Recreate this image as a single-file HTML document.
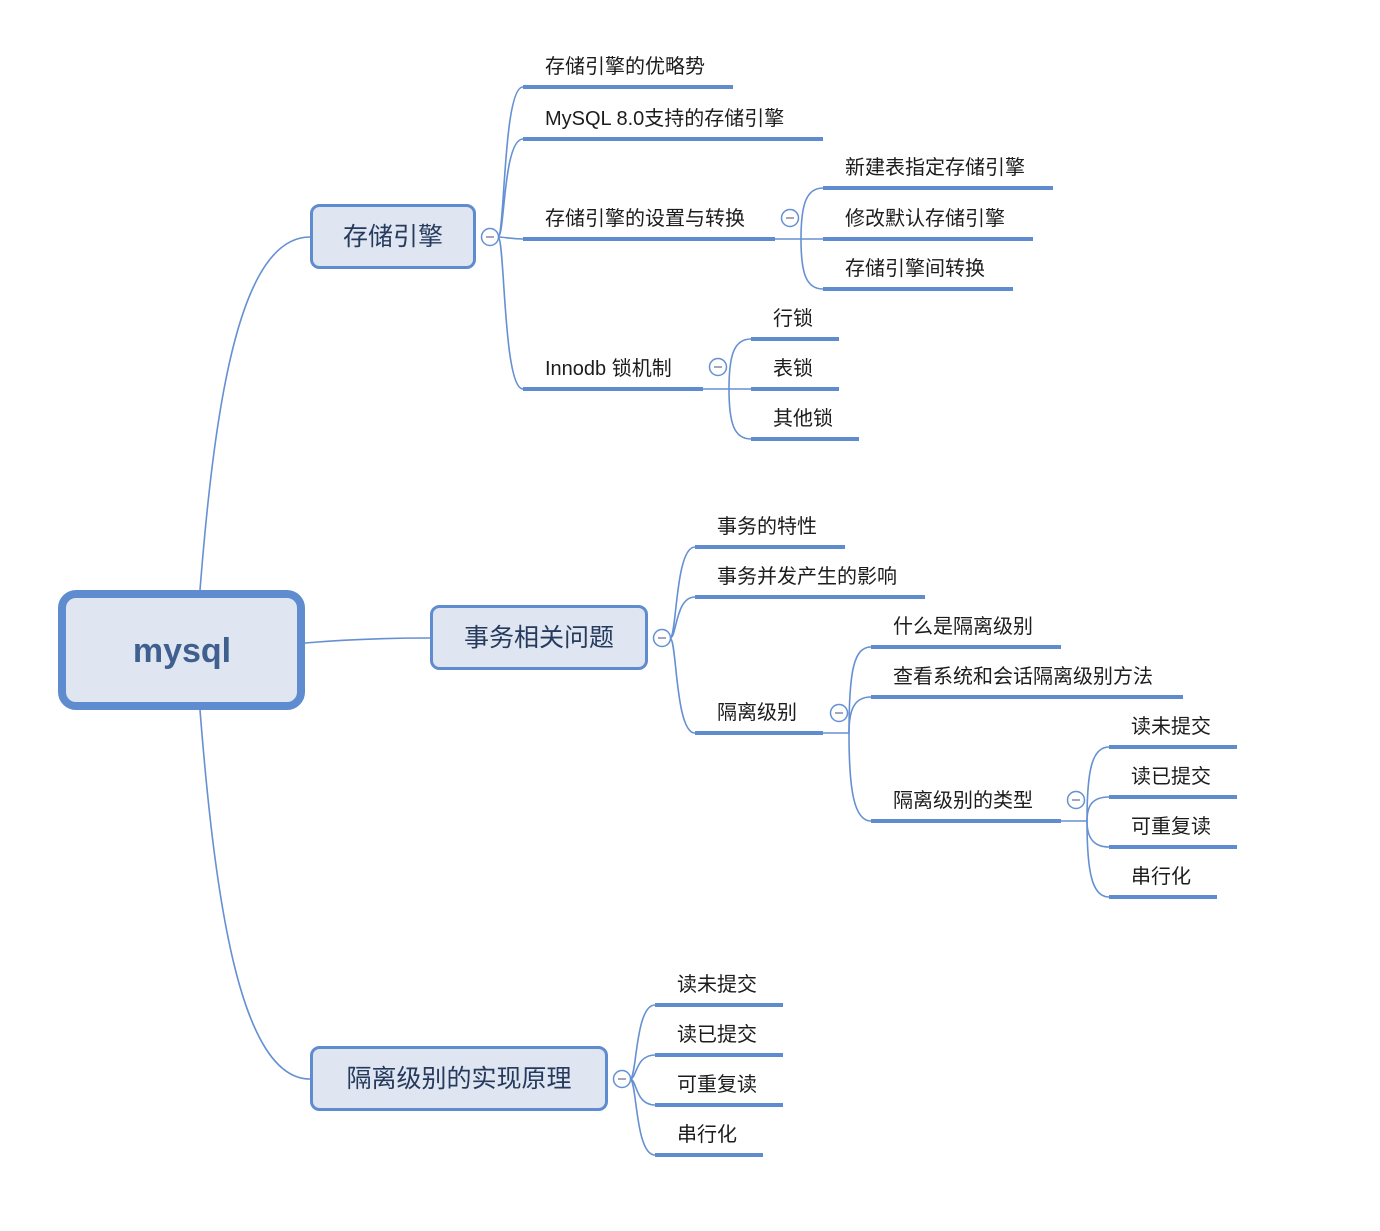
<!DOCTYPE html>
<html><head><meta charset="utf-8"><style>
html,body{margin:0;padding:0;background:#fff}
svg text{font-family:"Liberation Sans","Noto Sans CJK SC",sans-serif}
.l{font-size:20px;fill:#1c1c1c}
.u{stroke:#5f8ccf;stroke-width:4}
.c{fill:none;stroke:#6590d2;stroke-width:1.6}
</style></head><body>
<svg width="1380" height="1226" viewBox="0 0 1380 1226" xmlns="http://www.w3.org/2000/svg">
<g class="c">
<path d="M200,590 C215,400 240,237 310,237"/>
<path d="M305,643 C340,640 380,638 430,638"/>
<path d="M200,710 C215,900 240,1079 310,1079"/>
<path d="M498,237 C505,237 503,87 523,87"/>
<path d="M498,237 C505,237 503,139 523,139"/>
<path d="M498,237 C505,237 510,239 523,239"/>
<path d="M498,237 C505,237 503,389 523,389"/>
<path d="M775,239 L801,239"/>
<path d="M801,239 C801,205 806,188 823,188"/>
<path d="M801,239 L823,239"/>
<path d="M801,239 C801,273 806,289 823,289"/>
<path d="M703,389 L729,389"/>
<path d="M729,389 C729,355 734,339 751,339"/>
<path d="M729,389 L751,389"/>
<path d="M729,389 C729,423 734,439 751,439"/>
<path d="M670,638 C677,638 675,547 695,547"/>
<path d="M670,638 C677,638 675,597 695,597"/>
<path d="M670,638 C677,638 675,733 695,733"/>
<path d="M823,733 L849,733"/>
<path d="M849,733 C849,670 854,647 871,647"/>
<path d="M849,733 C849,710 854,697 871,697"/>
<path d="M849,733 C849,790 854,821 871,821"/>
<path d="M1061,821 L1087,821"/>
<path d="M1087,821 C1087,770 1092,747 1109,747"/>
<path d="M1087,821 C1087,806 1092,797 1109,797"/>
<path d="M1087,821 C1087,836 1092,847 1109,847"/>
<path d="M1087,821 C1087,872 1092,897 1109,897"/>
<path d="M630,1079 C637,1079 635,1005 655,1005"/>
<path d="M630,1079 C637,1079 635,1055 655,1055"/>
<path d="M630,1079 C637,1079 635,1105 655,1105"/>
<path d="M630,1079 C637,1079 635,1155 655,1155"/>
</g>
<g class="u">
<line x1="523" y1="87" x2="733" y2="87"/>
<line x1="523" y1="139" x2="823" y2="139"/>
<line x1="523" y1="239" x2="775" y2="239"/>
<line x1="523" y1="389" x2="703" y2="389"/>
<line x1="823" y1="188" x2="1053" y2="188"/>
<line x1="823" y1="239" x2="1033" y2="239"/>
<line x1="823" y1="289" x2="1013" y2="289"/>
<line x1="751" y1="339" x2="839" y2="339"/>
<line x1="751" y1="389" x2="839" y2="389"/>
<line x1="751" y1="439" x2="859" y2="439"/>
<line x1="695" y1="547" x2="845" y2="547"/>
<line x1="695" y1="597" x2="925" y2="597"/>
<line x1="695" y1="733" x2="823" y2="733"/>
<line x1="871" y1="647" x2="1061" y2="647"/>
<line x1="871" y1="697" x2="1183" y2="697"/>
<line x1="871" y1="821" x2="1061" y2="821"/>
<line x1="1109" y1="747" x2="1237" y2="747"/>
<line x1="1109" y1="797" x2="1237" y2="797"/>
<line x1="1109" y1="847" x2="1237" y2="847"/>
<line x1="1109" y1="897" x2="1217" y2="897"/>
<line x1="655" y1="1005" x2="783" y2="1005"/>
<line x1="655" y1="1055" x2="783" y2="1055"/>
<line x1="655" y1="1105" x2="783" y2="1105"/>
<line x1="655" y1="1155" x2="763" y2="1155"/>
</g>
<g class="l">
<text x="545" y="73">存储引擎的优略势</text>
<text x="545" y="125">MySQL 8.0支持的存储引擎</text>
<text x="545" y="225">存储引擎的设置与转换</text>
<text x="545" y="375">Innodb 锁机制</text>
<text x="845" y="174">新建表指定存储引擎</text>
<text x="845" y="225">修改默认存储引擎</text>
<text x="845" y="275">存储引擎间转换</text>
<text x="773" y="325">行锁</text>
<text x="773" y="375">表锁</text>
<text x="773" y="425">其他锁</text>
<text x="717" y="533">事务的特性</text>
<text x="717" y="583">事务并发产生的影响</text>
<text x="717" y="719">隔离级别</text>
<text x="893" y="633">什么是隔离级别</text>
<text x="893" y="683">查看系统和会话隔离级别方法</text>
<text x="893" y="807">隔离级别的类型</text>
<text x="1131" y="733">读未提交</text>
<text x="1131" y="783">读已提交</text>
<text x="1131" y="833">可重复读</text>
<text x="1131" y="883">串行化</text>
<text x="677" y="991">读未提交</text>
<text x="677" y="1041">读已提交</text>
<text x="677" y="1091">可重复读</text>
<text x="677" y="1141">串行化</text>
</g>
<g fill="#fff" stroke="#6590d2" stroke-width="1.5">
<circle cx="490" cy="237" r="8.5"/>
<circle cx="790" cy="218" r="8.5"/>
<circle cx="718" cy="367" r="8.5"/>
<circle cx="662" cy="638" r="8.5"/>
<circle cx="839" cy="713" r="8.5"/>
<circle cx="1076" cy="800" r="8.5"/>
<circle cx="622" cy="1079" r="8.5"/>
</g>
<g stroke="#8a93aa" stroke-width="1.6">
<line x1="486" y1="237" x2="494" y2="237"/>
<line x1="786" y1="218" x2="794" y2="218"/>
<line x1="714" y1="367" x2="722" y2="367"/>
<line x1="658" y1="638" x2="666" y2="638"/>
<line x1="835" y1="713" x2="843" y2="713"/>
<line x1="1072" y1="800" x2="1080" y2="800"/>
<line x1="618" y1="1079" x2="626" y2="1079"/>
</g>
<rect x="62" y="594" width="239" height="112" rx="14" fill="#dfe6f1" stroke="#5f8ccf" stroke-width="8"/>
<text x="182" y="662" text-anchor="middle" style="font-size:34px;font-weight:bold;fill:#3f5f8f">mysql</text>
<rect x="311.5" y="205.5" width="163" height="62" rx="8" fill="#dfe6f1" stroke="#5f8ccf" stroke-width="3"/>
<text x="393" y="245" text-anchor="middle" style="font-size:25px;fill:#253a5c">存储引擎</text>
<rect x="431.5" y="606.5" width="215" height="62" rx="8" fill="#dfe6f1" stroke="#5f8ccf" stroke-width="3"/>
<text x="539" y="646" text-anchor="middle" style="font-size:25px;fill:#253a5c">事务相关问题</text>
<rect x="311.5" y="1047.5" width="295" height="62" rx="8" fill="#dfe6f1" stroke="#5f8ccf" stroke-width="3"/>
<text x="459" y="1087" text-anchor="middle" style="font-size:25px;fill:#253a5c">隔离级别的实现原理</text>
</svg>
</body></html>
